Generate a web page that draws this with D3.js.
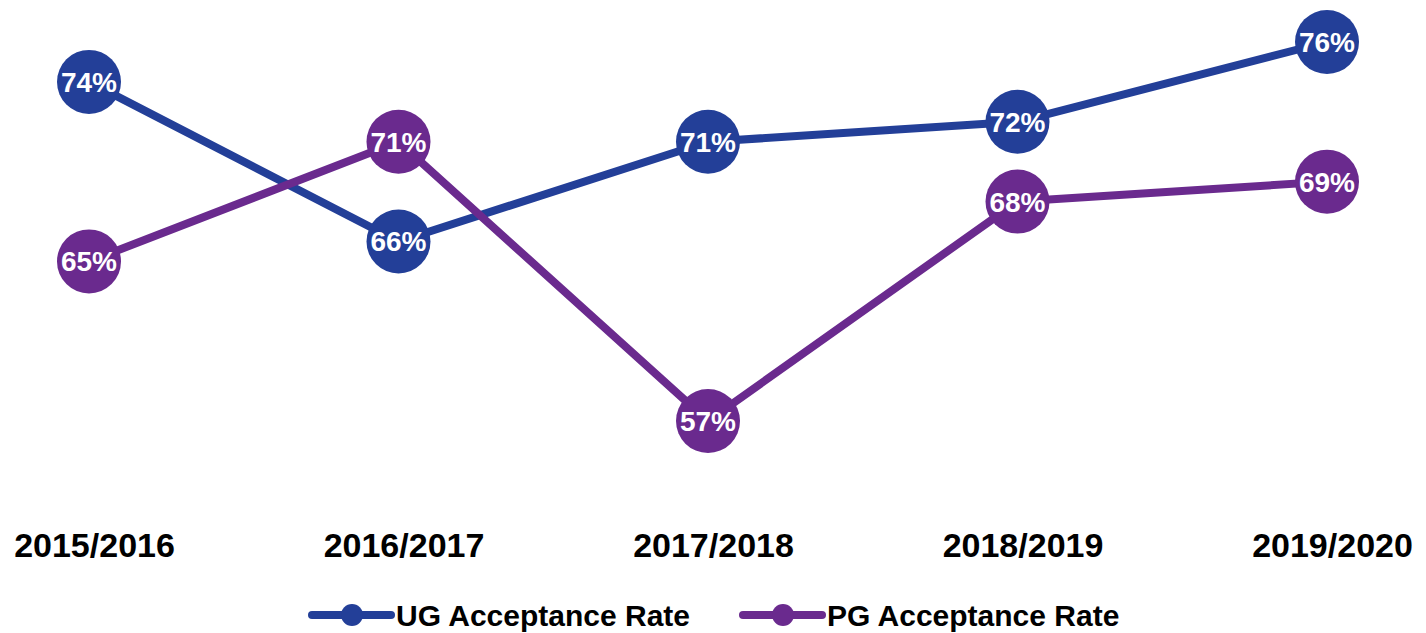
<!DOCTYPE html>
<html><head><meta charset="utf-8">
<script src="https://cdn.jsdelivr.net/npm/d3@7"></script>
<style>body{margin:0;background:#fff}svg{display:block}</style>
</head><body>
<svg id="c" width="1426" height="633"></svg>
<script>
const categories = ["2015/2016","2016/2017","2017/2018","2018/2019","2019/2020"];
const ugValues = [74, 66, 71, 72, 76];
const pgValues = [65, 71, 57, 68, 69];
const seriesNames = ["UG Acceptance Rate","PG Acceptance Rate"];
const colors = ["#233f98","#6a2a8e"];

const svg = d3.select("#c");
const x = d3.scalePoint().domain(categories).range([89, 1327]);
const y = d3.scaleLinear().domain([57, 76]).range([421, 42]);
const font = "'Liberation Sans', Arial, sans-serif";

const series = [{name: seriesNames[0], values: ugValues, color: colors[0]},
                {name: seriesNames[1], values: pgValues, color: colors[1]}];
const line = d3.line().x((d,i)=>x(categories[i])).y(d=>y(d));

series.forEach(s=>{
  svg.append("path").attr("d", line(s.values)).attr("fill","none")
    .attr("stroke", s.color).attr("stroke-width", 8).attr("stroke-linejoin","round");
});
series.forEach(s=>{
  const g = svg.append("g");
  g.selectAll("circle").data(s.values).join("circle")
    .attr("cx",(d,i)=>x(categories[i])).attr("cy",d=>y(d)).attr("r",32).attr("fill",s.color);
  g.selectAll("text").data(s.values).join("text")
    .attr("x",(d,i)=>x(categories[i])).attr("y",d=>y(d)+10)
    .attr("text-anchor","middle").attr("fill","#fff")
    .attr("font-family",font).attr("font-weight","bold").attr("font-size",28)
    .text(d=>d+"%");
});

// x axis labels
const xAxis = d3.axisBottom(x).tickSize(0).tickPadding(0);
const ax = svg.append("g").attr("transform","translate(5,533)").call(xAxis);
ax.select(".domain").remove();
ax.selectAll("text").attr("font-family",font).attr("font-weight","bold")
  .attr("font-size",34).attr("fill","#000").attr("dy","0.71em");

// legend
const legX = [312, 743];
series.forEach((s,i)=>{
  const g = svg.append("g").attr("transform",`translate(${legX[i]},615)`);
  g.append("line").attr("x1",0).attr("x2",79).attr("y1",0).attr("y2",0)
    .attr("stroke",s.color).attr("stroke-width",8).attr("stroke-linecap","round");
  g.append("circle").attr("cx",40).attr("cy",0).attr("r",11).attr("fill",s.color);
  g.append("text").attr("x",84).attr("y",11).attr("font-family",font)
    .attr("font-weight","bold").attr("font-size",30).attr("fill","#000").text(s.name);
});
</script>
</body></html>
